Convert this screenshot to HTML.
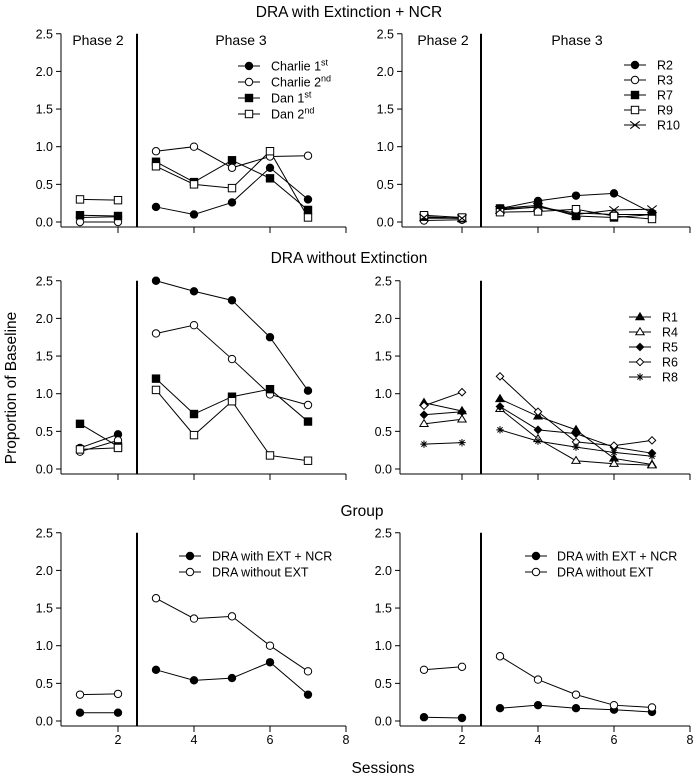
<!DOCTYPE html>
<html><head><meta charset="utf-8"><style>
html,body{margin:0;padding:0;background:#fff}
svg{display:block;font-family:"Liberation Sans",Arial,sans-serif}
</style></head><body>
<svg id="c" width="698" height="777" viewBox="0 0 698 777"></svg>
<script>
const sessions=[1,2,3,4,5,6,7];
// Top-left: DRA with Extinction + NCR (Charlie/Dan)
const tlCharlie1=[0.06,0.07,0.2,0.1,0.26,0.72,0.3];
const tlCharlie2=[0.0,0.0,0.94,1.0,0.72,0.87,0.88];
const tlDan1=[0.09,0.08,0.8,0.53,0.82,0.58,0.16];
const tlDan2=[0.3,0.29,0.74,0.5,0.45,0.94,0.06];
// Top-right
const trR2=[0.05,0.05,0.18,0.28,0.35,0.38,0.12];
const trR3=[0.02,0.03,0.17,0.2,0.12,0.1,0.1];
const trR7=[0.07,0.05,0.18,0.22,0.08,0.06,0.1];
const trR9=[0.09,0.06,0.13,0.14,0.17,0.08,0.04];
const trR10=[0.06,0.05,0.16,0.2,0.1,0.16,0.17];
// Middle-left: DRA without Extinction
const mlCharlie1=[0.28,0.46,2.5,2.36,2.24,1.75,1.04];
const mlCharlie2=[0.23,0.38,1.8,1.91,1.46,0.99,0.85];
const mlDan1=[0.6,0.3,1.2,0.73,0.96,1.06,0.63];
const mlDan2=[0.26,0.28,1.05,0.45,0.9,0.18,0.11];
// Middle-right
const mrR1=[0.88,0.77,0.93,0.7,0.52,0.14,0.06];
const mrR4=[0.6,0.66,0.8,0.4,0.11,0.07,0.05];
const mrR5=[0.72,0.76,0.83,0.52,0.47,0.29,0.21];
const mrR6=[0.84,1.02,1.23,0.76,0.36,0.31,0.38];
const mrR8=[0.33,0.35,0.52,0.37,0.29,0.22,0.17];
// Bottom: group
const blWith=[0.11,0.11,0.68,0.54,0.57,0.78,0.35];
const blWithout=[0.35,0.36,1.63,1.36,1.39,1.0,0.66];
const brWith=[0.05,0.04,0.17,0.21,0.17,0.15,0.12];
const brWithout=[0.68,0.72,0.86,0.55,0.35,0.21,0.18];
const yTicks=[0,0.5,1,1.5,2,2.5];
const yTickLabels=["0.0","0.5","1.0","1.5","2.0","2.5"];
const xTicks=[2,4,6,8];

const svg=document.getElementById('c');
const NS='http://www.w3.org/2000/svg';
function el(tag,attrs,parent,text){const e=document.createElementNS(NS,tag);for(const k in attrs)e.setAttribute(k,attrs[k]);if(text!==undefined)e.textContent=text;(parent||svg).appendChild(e);return e;}

function marker(g,type,x,y){
  const s=3.7;let m;
  if(type==='fc'||type==='oc'){m=el('circle',{cx:x,cy:y,r:s,fill:type==='fc'?'#000':'#fff',stroke:'#000','stroke-width':1},g);}
  else if(type==='fs'||type==='os'){m=el('rect',{x:x-s,y:y-s,width:2*s,height:2*s,fill:type==='fs'?'#000':'#fff',stroke:'#000','stroke-width':1},g);}
  else if(type==='ft'||type==='ot'){m=el('polygon',{points:`${x},${y-s-0.5} ${x-s-0.5},${y+s-1} ${x+s+0.5},${y+s-1}`,fill:type==='ft'?'#000':'#fff',stroke:'#000','stroke-width':1},g);}
  else if(type==='fd'||type==='od'){m=el('polygon',{points:`${x},${y-s} ${x+s},${y} ${x},${y+s} ${x-s},${y}`,fill:type==='fd'?'#000':'#fff',stroke:'#000','stroke-width':1},g);}
  else if(type==='x'){m=el('path',{d:`M${x-s-1} ${y-s}L${x+s+1} ${y+s}M${x-s-1} ${y+s}L${x+s+1} ${y-s}`,stroke:'#000','stroke-width':1.1,fill:'none'},g);}
  else if(type==='star'){m=el('path',{d:`M${x-s} ${y}L${x+s} ${y}M${x-s*0.7} ${y-s*0.7}L${x+s*0.7} ${y+s*0.7}M${x-s*0.7} ${y+s*0.7}L${x+s*0.7} ${y-s*0.7}M${x} ${y-s}L${x} ${y+s}`,stroke:'#000','stroke-width':1,fill:'none'},g);}
  
  
}

function panel(name,xLeftAxis,x0,y0,xLabels,series,legend){
  const g=el('g',{});
  
  
  const sx=s=>x0+38*s;
  const sy=v=>y0-75.3*v;
  const yTop=sy(2.5), base=y0+5;
  el('line',{x1:xLeftAxis,y1:yTop,x2:xLeftAxis,y2:base,stroke:'#000','stroke-width':1},g);
  el('line',{x1:xLeftAxis,y1:base,x2:sx(8),y2:base,stroke:'#000','stroke-width':1},g);
  yTicks.forEach((t,i)=>{
    el('line',{x1:xLeftAxis-5,y1:sy(t),x2:xLeftAxis,y2:sy(t),stroke:'#000'},g);
    const tl=el('text',{x:xLeftAxis-8,y:sy(t)+4.5,'font-size':12.5,'text-anchor':'end'},g,yTickLabels[i]);
    
    
  });
  xTicks.forEach(t=>{
    el('line',{x1:sx(t),y1:base,x2:sx(t),y2:base+6,stroke:'#000'},g);
    if(xLabels){const tl=el('text',{x:sx(t),y:base+18,'font-size':12.5,'text-anchor':'middle'},g,String(t));
      
      }
  });
  el('line',{x1:sx(2.5),y1:yTop,x2:sx(2.5),y2:base,stroke:'#000','stroke-width':2},g);
  series.forEach(sr=>{
    const d=sr.v;
    [[0,2],[2,7]].forEach(([a,b])=>{
      const pts=[];for(let i=a;i<b;i++)pts.push(sx(sessions[i])+','+sy(d[i]));
      const pl=el('polyline',{points:pts.join(' '),fill:'none',stroke:'#000','stroke-width':1},g);
      
      
    });
  });
  series.forEach(sr=>{sr.v.forEach((v,i)=>marker(g,sr.m,sx(sessions[i]),sy(v)));});
  if(legend){
    legend.items.forEach((it,i)=>{
      const ly=legend.y+i*legend.dy;
      const lg=el('g',{},g);
      
      
      el('line',{x1:legend.x-11,y1:ly,x2:legend.x+11,y2:ly,stroke:'#000'},lg);
      marker(lg,it.m,legend.x,ly);
      const t=el('text',{x:legend.x+legend.tx,y:ly+4.5,'font-size':12.5},lg);
      t.innerHTML=it.label;
    });
  }
}
const sup=s=>`<tspan dy="-5" font-size="9">${s}</tspan>`;
const tlItems=[{m:'fc',label:'Charlie 1'+sup('st')},{m:'oc',label:'Charlie 2'+sup('nd')},{m:'fs',label:'Dan 1'+sup('st')},{m:'os',label:'Dan 2'+sup('nd')}];
panel('panel-top-left',61,42,222,false,[{m:'fc',v:tlCharlie1},{m:'oc',v:tlCharlie2},{m:'fs',v:tlDan1},{m:'os',v:tlDan2}],{x:249,y:66,dy:16,tx:22,items:tlItems});
panel('panel-top-right',402,386,222,false,[{m:'fc',v:trR2},{m:'oc',v:trR3},{m:'fs',v:trR7},{m:'os',v:trR9},{m:'x',v:trR10}],
  {x:635,y:65,dy:15,tx:22,items:[{m:'fc',label:'R2'},{m:'oc',label:'R3'},{m:'fs',label:'R7'},{m:'os',label:'R9'},{m:'x',label:'R10'}]});
panel('panel-middle-left',61,42,469,false,[{m:'fc',v:mlCharlie1},{m:'oc',v:mlCharlie2},{m:'fs',v:mlDan1},{m:'os',v:mlDan2}],null);
panel('panel-middle-right',400,386,469,false,[{m:'ft',v:mrR1},{m:'ot',v:mrR4},{m:'fd',v:mrR5},{m:'od',v:mrR6},{m:'star',v:mrR8}],
  {x:640,y:317,dy:15,tx:22,items:[{m:'ft',label:'R1'},{m:'ot',label:'R4'},{m:'fd',label:'R5'},{m:'od',label:'R6'},{m:'star',label:'R8'}]});
panel('panel-bottom-left',61,42,721,true,[{m:'fc',v:blWith},{m:'oc',v:blWithout}],
  {x:190,y:556,dy:16,tx:22,items:[{m:'fc',label:'DRA with EXT + NCR'},{m:'oc',label:'DRA without EXT'}]});
panel('panel-bottom-right',400,386,721,true,[{m:'fc',v:brWith},{m:'oc',v:brWithout}],
  {x:536,y:556,dy:16,tx:21,items:[{m:'fc',label:'DRA with EXT + NCR'},{m:'oc',label:'DRA without EXT'}]});

function txt(name,attrs,s){const t=el('text',attrs,svg,s);}
txt('title-top',{x:349,y:17,'font-size':15.5,'text-anchor':'middle'},'DRA with Extinction + NCR');
txt('title-middle',{x:349,y:263,'font-size':15.5,'text-anchor':'middle'},'DRA without Extinction');
txt('title-bottom',{x:362,y:516,'font-size':15.5,'text-anchor':'middle'},'Group');
txt('phase2-left',{x:98,y:45,'font-size':14,'text-anchor':'middle'},'Phase 2');
txt('phase3-left',{x:241,y:45,'font-size':14,'text-anchor':'middle'},'Phase 3');
txt('phase2-right',{x:443,y:45,'font-size':14,'text-anchor':'middle'},'Phase 2');
txt('phase3-right',{x:577,y:45,'font-size':14,'text-anchor':'middle'},'Phase 3');
txt('x-axis-title',{x:383,y:773,'font-size':15.5,'text-anchor':'middle'},'Sessions');
txt('y-axis-title',{x:0,y:0,'font-size':15.5,'text-anchor':'middle',transform:'translate(16,388) rotate(-90)'},'Proportion of Baseline');
</script>
</body></html>
